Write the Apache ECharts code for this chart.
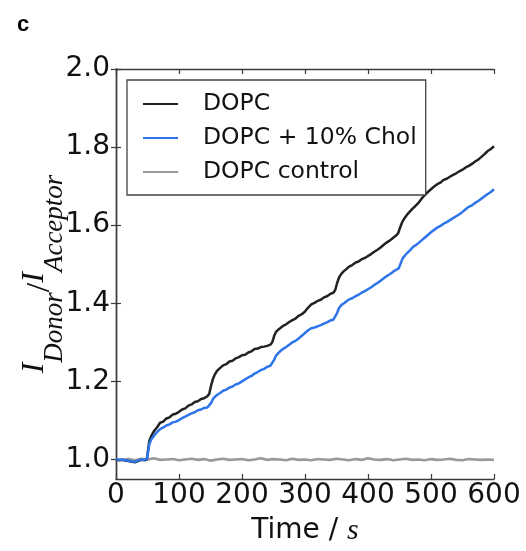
<!DOCTYPE html>
<html>
<head>
<meta charset="utf-8">
<script src="https://cdn.jsdelivr.net/npm/echarts@6/dist/echarts.min.js"></script>
<style>html,body{margin:0;padding:0;background:#fff}#c{width:526px;height:551px}</style>
</head>
<body>
<div id="c"></div>
<script>
const seriesNames = ['DOPC', 'DOPC + 10% Chol', 'DOPC control'];
const yTickValues = [1.0, 1.2, 1.4, 1.6, 1.8, 2.0];

const dopc = [
[0,1.000],[5,0.998],[10,0.999],[15,0.997],[20,0.996],[25,0.994],[30,0.993],[35,0.996],[40,0.999],[45,0.998],[49,1.000],
[51,1.025],[53,1.048],[56,1.060],[60,1.072],[65,1.082],[70,1.094],[75,1.097],[80,1.105],[85,1.108],[90,1.115],[95,1.117],[100,1.122],[105,1.128],[110,1.131],[115,1.138],[120,1.141],[125,1.147],[130,1.149],[135,1.155],[140,1.157],[145,1.162],[148,1.168],[151,1.190],[154,1.207],[157,1.218],[160,1.226],[165,1.234],[170,1.241],[175,1.244],[180,1.251],[185,1.253],[190,1.259],[195,1.262],[200,1.267],[205,1.268],[210,1.274],[215,1.277],[220,1.283],[225,1.284],[230,1.288],[235,1.289],[240,1.291],[245,1.294],[248,1.300],[251,1.316],[254,1.327],[258,1.333],[262,1.338],[266,1.343],[270,1.346],[275,1.352],[280,1.357],[285,1.361],[290,1.368],[295,1.372],[300,1.379],[305,1.389],[310,1.397],[315,1.401],[320,1.406],[325,1.409],[330,1.415],[335,1.418],[340,1.424],[345,1.427],[348,1.434],[351,1.452],[354,1.466],[358,1.476],[362,1.483],[366,1.488],[370,1.494],[375,1.498],[380,1.504],[385,1.507],[390,1.513],[395,1.516],[400,1.521],[405,1.526],[410,1.532],[415,1.537],[420,1.543],[425,1.550],[430,1.556],[435,1.561],[440,1.568],[445,1.574],[448,1.580],[451,1.594],[454,1.607],[458,1.618],[462,1.627],[466,1.634],[470,1.641],[475,1.649],[480,1.657],[485,1.668],[490,1.677],[495,1.685],[500,1.692],[505,1.699],[510,1.705],[515,1.709],[520,1.716],[525,1.719],[530,1.724],[535,1.729],[540,1.733],[545,1.738],[550,1.742],[555,1.748],[560,1.752],[565,1.757],[570,1.763],[575,1.768],[580,1.775],[585,1.782],[590,1.790],[595,1.795],[600,1.802]
];

const dopcChol = [
[0,1.001],[5,0.999],[10,1.000],[15,0.998],[20,0.997],[25,0.995],[30,0.994],[35,0.997],[40,1.000],[45,0.999],[49,1.001],
[51,1.020],[53,1.040],[56,1.051],[60,1.060],[65,1.070],[70,1.078],[75,1.082],[80,1.087],[85,1.090],[90,1.095],[95,1.097],[100,1.101],[105,1.106],[110,1.110],[115,1.114],[120,1.118],[125,1.121],[130,1.126],[135,1.128],[140,1.132],[145,1.133],[148,1.136],[151,1.145],[154,1.155],[158,1.162],[162,1.167],[166,1.171],[170,1.176],[175,1.179],[180,1.184],[185,1.187],[190,1.192],[195,1.195],[200,1.200],[205,1.205],[210,1.210],[215,1.214],[220,1.220],[225,1.224],[230,1.229],[235,1.232],[240,1.237],[245,1.240],[248,1.244],[251,1.255],[254,1.266],[258,1.273],[262,1.279],[266,1.284],[270,1.288],[275,1.294],[280,1.300],[285,1.304],[290,1.310],[295,1.317],[300,1.324],[305,1.331],[310,1.336],[315,1.338],[320,1.341],[325,1.344],[330,1.348],[335,1.351],[340,1.356],[345,1.358],[348,1.362],[351,1.375],[354,1.388],[358,1.396],[362,1.400],[366,1.405],[370,1.410],[375,1.413],[380,1.418],[385,1.422],[390,1.427],[395,1.431],[400,1.436],[405,1.441],[410,1.447],[415,1.452],[420,1.458],[425,1.464],[430,1.470],[435,1.475],[440,1.481],[445,1.486],[449,1.490],[452,1.503],[455,1.515],[459,1.523],[463,1.530],[467,1.536],[472,1.545],[476,1.549],[480,1.554],[485,1.561],[490,1.568],[495,1.575],[500,1.582],[505,1.588],[510,1.594],[515,1.598],[520,1.604],[525,1.608],[530,1.613],[535,1.618],[540,1.623],[545,1.628],[550,1.634],[555,1.641],[560,1.647],[565,1.651],[570,1.657],[575,1.662],[580,1.668],[585,1.674],[590,1.680],[595,1.685],[600,1.692]
];

const controlTimes = [0,10,20,30,40,50,60,70,80,90,100,110,120,130,140,150,160,170,180,190,200,210,220,230,240,250,260,270,280,290,300,310,320,330,340,350,360,370,380,390,400,410,420,430,440,450,460,470,480,490,500,510,520,530,540,550,560,570,580,590,600];
const controlValues = [1.000,0.999,1.001,0.998,1.002,1.000,1.003,0.999,1.000,1.001,0.998,1.000,1.002,0.999,1.001,0.997,1.000,1.002,0.999,1.000,1.001,0.998,1.000,1.003,0.999,1.001,1.000,0.998,1.002,0.999,1.000,0.998,1.001,1.000,0.999,1.002,1.000,0.998,1.001,0.999,1.003,1.000,0.999,1.001,0.998,1.000,1.002,0.999,1.000,0.998,1.001,0.999,1.000,1.002,0.999,0.998,1.001,1.000,0.999,1.000,0.999];

const control = controlTimes.map((t, i) => [t, controlValues[i]]);

const AX = '#3a3a3a';
const chart = echarts.init(document.getElementById('c'), null, {renderer: 'canvas'});
const tickStyle = {show: true, inside: true, length: 5, lineStyle: {color: AX, width: 1.2}};
const lineAx = {show: true, lineStyle: {color: AX, width: 1.4}};

chart.setOption({
  animation: false,
  backgroundColor: '#fff',
  title: {text: 'c', left: 12, top: 9, textStyle: {fontSize: 22, fontWeight: 'bold', fontFamily: 'Liberation Sans', color: '#000'}},
  grid: {left: 116, right: 32, top: 69, bottom: 70, containLabel: false},
  legend: {
    orient: 'vertical', left: 127, top: 80,
    data: seriesNames,
    icon: 'rect', itemWidth: 35, itemHeight: 2, itemGap: 10,
    padding: [12, 9, 11, 16],
    borderColor: '#444', borderWidth: 1.3, borderRadius: 0,
    backgroundColor: '#fff',
    textStyle: {fontSize: 23.5, fontFamily: 'DejaVu Sans', color: '#111', lineHeight: 24, padding: [0, 0, 0, 20]}
  },
  xAxis: [
    {type: 'value', min: 0, max: 600, interval: 100, position: 'bottom',
     axisLine: lineAx, axisTick: tickStyle, splitLine: {show: false},
     axisLabel: {fontSize: 28, fontFamily: 'DejaVu Sans', color: '#111', margin: 3},
     name: '{a|Time / }{b|s}', nameLocation: 'middle', nameGap: 37, nameMoveOverlap: false,
     nameTextStyle: {rich: {
       a: {fontSize: 28, fontFamily: 'DejaVu Sans', color: '#111'},
       b: {fontSize: 30, fontFamily: 'Liberation Serif', fontStyle: 'italic', color: '#111'}
     }}},
    {type: 'value', min: 0, max: 600, interval: 100, position: 'top',
     axisLine: lineAx, axisTick: tickStyle, splitLine: {show: false}, axisLabel: {show: false}}
  ],
  yAxis: [
    {type: 'value', min: 0.95, max: 2.0, position: 'left',
     axisLine: lineAx,
     axisTick: Object.assign({}, tickStyle, {customValues: yTickValues}),
     splitLine: {show: false},
     axisLabel: {customValues: yTickValues, fontSize: 28, fontFamily: 'DejaVu Sans', color: '#111', margin: 6,
       formatter: v => v.toFixed(1)},
     name: '{i|I}{s|Donor}{m|/}{i|I}{s|Acceptor}', nameLocation: 'middle', nameRotate: 90, nameGap: 57, nameMoveOverlap: false,
     nameTextStyle: {rich: {
       i: {fontSize: 32, fontFamily: 'Liberation Serif', fontStyle: 'italic', color: '#111', lineHeight: 32, verticalAlign: 'top'},
       m: {fontSize: 34, fontFamily: 'Liberation Serif', color: '#111', lineHeight: 40, verticalAlign: 'top', padding: [4, 0, 0, 0]},
       s: {fontSize: 27, fontFamily: 'Liberation Serif', fontStyle: 'italic', color: '#111', lineHeight: 27, verticalAlign: 'top', padding: [22, 0, 0, 0]}
     }}},
    {type: 'value', min: 0.95, max: 2.0, position: 'right',
     axisLine: lineAx,
     axisTick: Object.assign({}, tickStyle, {customValues: yTickValues}),
     splitLine: {show: false}, axisLabel: {show: false}}
  ],
  series: [
    {name: 'DOPC control', type: 'line', data: control, showSymbol: false, symbol: 'none',
     lineStyle: {color: '#999999', width: 2.6}, itemStyle: {color: '#999999'}, z: 2},
    {name: 'DOPC', type: 'line', data: dopc, showSymbol: false, symbol: 'none',
     lineStyle: {color: '#222222', width: 2.5}, itemStyle: {color: '#222222'}, z: 3},
    {name: 'DOPC + 10% Chol', type: 'line', data: dopcChol, showSymbol: false, symbol: 'none',
     lineStyle: {color: '#2e74ea', width: 2.5}, itemStyle: {color: '#2e74ea'}, z: 4}
  ]
});
</script>
</body>
</html>
